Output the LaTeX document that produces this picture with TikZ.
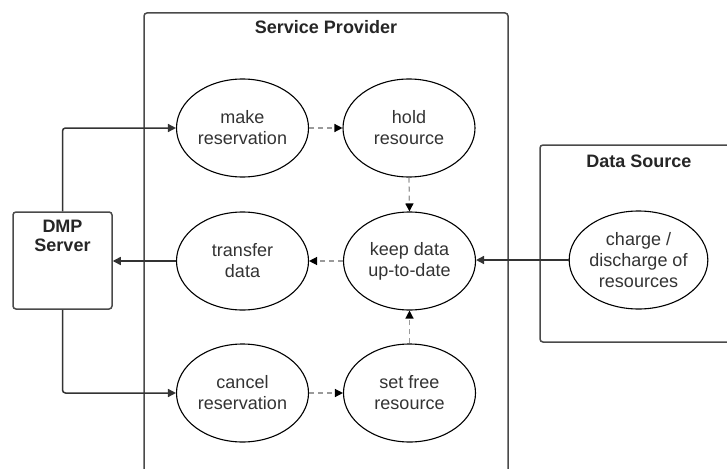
\documentclass[tikz,border=0pt]{standalone}
\usepackage{fontspec}
\setmainfont{Liberation Sans}
\usetikzlibrary{shapes.geometric,arrows.meta}
\definecolor{ink}{HTML}{333333}
\definecolor{frame}{HTML}{4A4A4A}
\definecolor{dashgray}{HTML}{9A9A9A}
\tikzset{
  usecase/.style={ellipse,draw=black,line width=1.1pt,fill=white,
    minimum width=132pt,minimum height=98pt,inner sep=0pt,
    align=center,text=ink,font=\fontsize{18}{21}\selectfont},
  container/.style={draw=frame,line width=1.5pt,rounded corners=3pt,fill=white},
  heading/.style={font=\bfseries\fontsize{18}{20}\selectfont,text=black!85,align=center,inner sep=0pt},
  flow/.style={draw=ink,line width=1.5pt,rounded corners=3pt,
    -{Triangle[length=8pt,width=8pt]}},
  weakflow/.style={draw=dashgray,line width=1.3pt,dash pattern=on 5pt off 4pt,
    -{Triangle[length=8pt,width=8pt,color=black]}}
}
\begin{document}
\begin{tikzpicture}[x=1pt,y=-1pt]
\useasboundingbox (0,0) rectangle (727,468);
\fill[white] (0,0) rectangle (727,468);
\clip (0,0) rectangle (727,468);

% containers
\draw[container] (144,13) rectangle (508,490);
\node[heading] at (326,27) {Service Provider};
\draw[container] (540,145) rectangle (745,342);
\node[heading] at (639,161) {Data Source};
\node[container,minimum width=99pt,minimum height=97pt,inner sep=0pt] (dmp) at (62.5,260.5) {};
\node[heading,anchor=north] (dmplabel) at (62.5,220) {DMP\\[-1pt]Server};

% use cases
\node[usecase] (mk) at (242.5,128) {make\\reservation};
\node[usecase] (hold) at (409,128) {hold\\resource};
\node[usecase] (tr) at (242.5,261) {transfer\\data};
\node[usecase] (keep) at (409.5,261) {keep data\\up-to-date};
\node[usecase] (cancel) at (242.5,393) {cancel\\reservation};
\node[usecase] (free) at (409.5,393) {set free\\resource};
\node[usecase] (charge) at (638.5,260) {charge /\\discharge of\\resources};

% solid flows
\draw[flow] (dmp.north) |- (mk.west);
\draw[flow] (dmp.south) |- (cancel.west);
\draw[flow] (tr.west) -- (tr.west -| dmp.east);
\draw[flow] (charge.west) -- (charge.west -| keep.east);

% dashed flows
\draw[weakflow] (mk.east) -- (hold.west);
\draw[weakflow] (hold.south) -- (keep.north);
\draw[weakflow] (keep.west) -- (tr.east);
\draw[weakflow] (free.north) -- (keep.south);
\draw[weakflow] (cancel.east) -- (free.west);
\end{tikzpicture}
\end{document}
